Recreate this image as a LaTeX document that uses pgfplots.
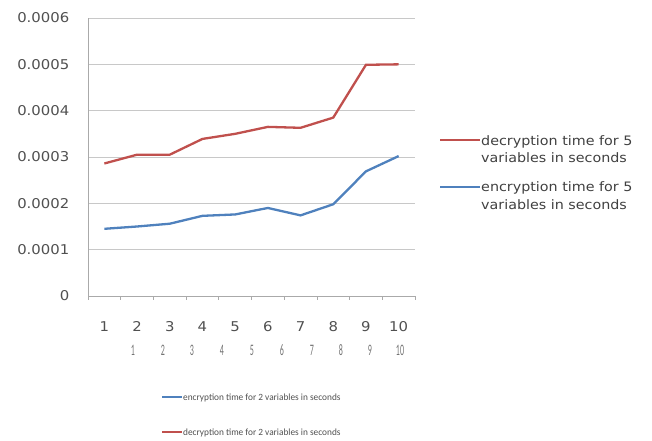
\documentclass[border=0pt]{standalone}
\usepackage{fontspec}
\setmainfont{DejaVu Sans}[FakeStretch=1.1]
\newfontfamily\condfont{Carlito}[FakeStretch=0.98]
\newfontfamily\narrowfont{Carlito}[FakeStretch=0.5]
\usepackage{pgfplots}
\pgfplotsset{compat=1.18}
\definecolor{exred}{RGB}{192,80,77}
\definecolor{exblue}{RGB}{79,129,189}
\definecolor{gridgray}{RGB}{200,200,200}
\definecolor{axisgray}{RGB}{170,170,170}
\definecolor{txtgray}{RGB}{80,80,80}
\begin{document}
\begin{tikzpicture}[x=1bp,y=1bp]
\useasboundingbox (-88,-145) rectangle (564,296);
\begin{axis}[
  at={(0,0)}, anchor=south west,
  scale only axis, width=327bp, height=278bp,
  xmin=0.5, xmax=10.5, ymin=0, ymax=0.0006,
  xtick={1,...,10},
  minor xtick={0.5,1.5,...,10.5},
  ytick={0,0.0001,0.0002,0.0003,0.0004,0.0005,0.0006},
  scaled y ticks=false,
  /pgf/number format/.cd, fixed, precision=4, assume math mode=true, /pgfplots/.cd,
  axis x line*=bottom, axis y line*=left,
  axis line style={axisgray, line width=0.8bp},
  ymajorgrids, major grid style={gridgray, line width=0.8bp},
  tick align=outside, minor tick length=4bp,
  major x tick style={draw=none}, ytick style={draw=none},
  minor x tick style={draw=axisgray, line width=0.8bp},
  ticklabel style={font=\fontsize{13.5bp}{16bp}\selectfont, text=txtgray},
  yticklabel style={xshift=-11bp},
  xticklabel style={anchor=center, yshift=-26bp},
  clip=false,
]
\addplot[exred, line width=2.3bp] coordinates {
(1,0.000286) (2,0.000305) (3,0.000305) (4,0.000339) (5,0.000350)
(6,0.000365) (7,0.000363) (8,0.000385) (9,0.000499) (10,0.000500)};
\addplot[exblue, line width=2.3bp] coordinates {
(1,0.000145) (2,0.000150) (3,0.000156) (4,0.000173) (5,0.000176)
(6,0.000190) (7,0.000174) (8,0.000198) (9,0.000269) (10,0.000302)};
\end{axis}
% second row of category labels
\foreach \px/\lab in {133/1,163/2,192/3,222/4,252/5,282/6,312/7,341/8,370/9,400/10}{
  \node[text=txtgray!80, font=\narrowfont\fontsize{16bp}{18bp}\selectfont, anchor=center, inner sep=0pt] at ({\px-88},-54) {\lab};
}
% right legend
\draw[exred, line width=2.2bp] (352,156) -- (392,156);
\draw[exblue, line width=2.2bp] (352,109) -- (392,109);
\begin{scope}[every node/.style={anchor=base west, inner sep=0pt, text=txtgray!80!black, font=\fontsize{13bp}{18bp}\selectfont}]
\node at (393,150.3) {decryption time for 5};
\node at (393,133) {variables in seconds};
\node at (393,104.3) {encryption time for 5};
\node at (393,86) {variables in seconds};
\end{scope}
% bottom legend
\draw[exblue, line width=2bp] (74,-101) -- (94,-101);
\draw[exred, line width=2bp] (74,-136) -- (94,-136);
\begin{scope}[every node/.style={anchor=base west, inner sep=0pt, text=txtgray, font=\condfont\fontsize{9.5bp}{11bp}\selectfont}]
\node at (95,-104.7) {encryption time for 2 variables in seconds};
\node at (95,-139.7) {decryption time for 2 variables in seconds};
\end{scope}
\end{tikzpicture}
\end{document}
